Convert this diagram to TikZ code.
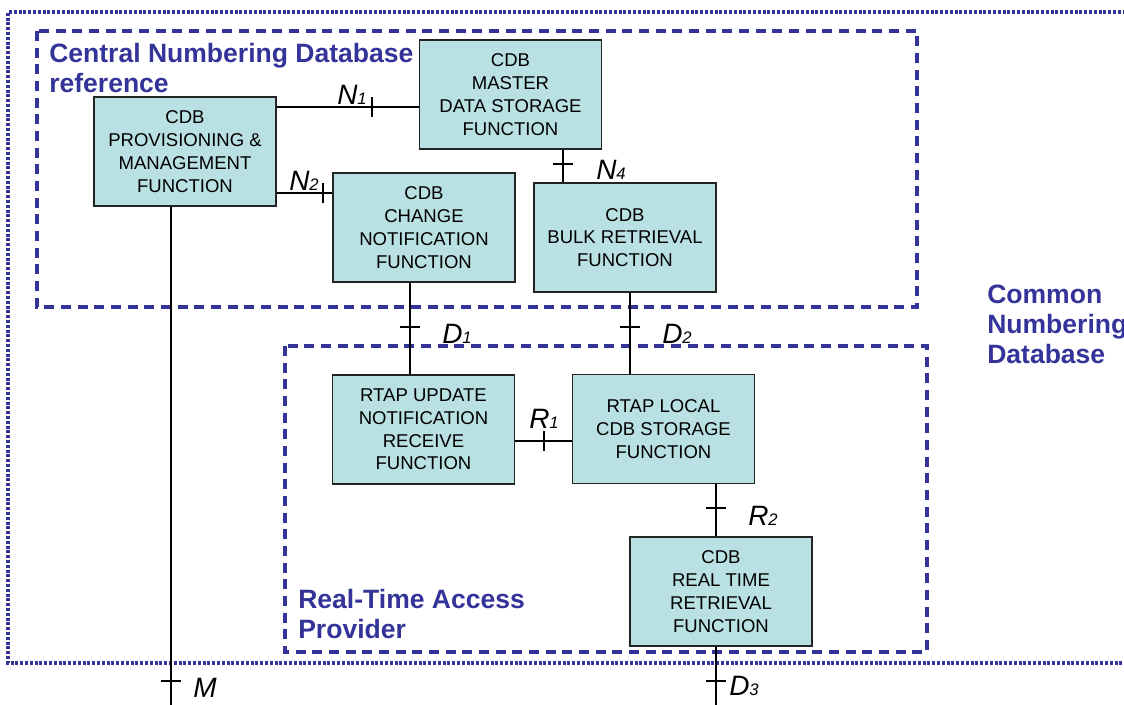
\documentclass[tikz,border=0pt]{standalone}
\usepackage{fontspec}
\setmainfont{Liberation Sans}
\definecolor{cnblue}{RGB}{51,51,153}
\definecolor{boxfill}{RGB}{185,224,227}
\definecolor{boxline}{RGB}{35,35,35}
\newcommand{\ifacelab}[2]{{\itshape #1{\fontsize{12.5pt}{12.5pt}\selectfont #2}}}
\begin{document}
\begin{tikzpicture}[x=0.75pt,y=-0.75pt,
  fnbox/.style={draw=boxline, line width=1.4pt, fill=boxfill, minimum width=136.5pt,
    minimum height=81.75pt, inner sep=0pt, align=center,
    font=\fontsize{13.9pt}{17.1pt}\selectfont},
  conn/.style={draw=black, line width=1.3pt},
  tick/.style={draw=black, line width=1.3pt},
  dashbox/.style={draw=cnblue, line width=2.6pt, dash pattern=on 7.5pt off 5pt},
  dotbox/.style={draw=cnblue, line width=2.4pt, dash pattern=on 2.2pt off 1.4pt},
  grouptitle/.style={text=cnblue, anchor=base west, align=left, inner sep=0pt,
    font=\fontsize{19.9pt}{22.5pt}\bfseries\selectfont},
  ilabel/.style={anchor=base west, inner sep=0pt, font=\fontsize{21pt}{21pt}\selectfont}]
\useasboundingbox (0,0) rectangle (1124,704);
% group frames
\draw[dotbox] (1140,12) -- (8,12) -- (8,663) -- (1140,663);
\draw[dashbox] (37,31) rectangle (917,307);
\draw[dashbox] (285,346) rectangle (927,652);
% group titles (anchored at the baseline of their last line)
\node[grouptitle] (tcnd) at (49,92) {Central Numbering Database\\reference};
\node[grouptitle] (tcomm) at (987,363) {Common\\Numbering\\Database};
\node[grouptitle] (trtap) at (298,638) {Real-Time Access\\Provider};
% function boxes
\node[fnbox] (prov) at (185,151.5) {CDB\\PROVISIONING \&\\MANAGEMENT\\FUNCTION};
\node[fnbox] (master) at (510.5,94.5) {CDB\\MASTER\\DATA STORAGE\\FUNCTION};
\node[fnbox] (change) at (424,227.5) {CDB\\CHANGE\\NOTIFICATION\\FUNCTION};
\node[fnbox] (bulk) at (625,237.5) {CDB\\BULK RETRIEVAL\\FUNCTION};
\node[fnbox] (rtapu) at (423.5,429.5) {RTAP UPDATE\\NOTIFICATION\\RECEIVE\\FUNCTION};
\node[fnbox] (rtapl) at (663.5,429) {RTAP LOCAL\\CDB STORAGE\\FUNCTION};
\node[fnbox] (rt) at (721,591.5) {CDB\\REAL TIME\\RETRIEVAL\\FUNCTION};
% free ends
\coordinate (mend) at (171,706);
\coordinate (d3end) at (716,706);
% connectors
\draw[conn] (prov.east |- 0,107) -- (master.west |- 0,107);
\draw[conn] (prov.east |- 0,193) -- (change.west |- 0,193);
\draw[conn] (master.south -| 563,0) -- (bulk.north -| 563,0);
\draw[conn] (change.south -| 410,0) -- (rtapu.north -| 410,0);
\draw[conn] (bulk.south -| 630,0) -- (rtapl.north -| 630,0);
\draw[conn] (rtapu.east |- 0,441) -- (rtapl.west |- 0,441);
\draw[conn] (rtapl.south -| 716,0) -- (rt.north -| 716,0);
\draw[conn] (prov.south -| mend) -- (mend);
\draw[conn] (rt.south -| d3end) -- (d3end);
% ticks
\draw[tick] (372,97) -- (372,117);
\draw[tick] (323,183) -- (323,203);
\draw[tick] (553,164) -- (573,164);
\draw[tick] (400,327) -- (420,327);
\draw[tick] (620,327) -- (640,327);
\draw[tick] (544,431) -- (544,451);
\draw[tick] (706,508) -- (726,508);
\draw[tick] (161,681) -- (181,681);
\draw[tick] (706,681) -- (726,681);
% interface labels
\node[ilabel] (ln1) at (337,104) {\ifacelab{N}{1}};
\node[ilabel] (ln2) at (289,190) {\ifacelab{N}{2}};
\node[ilabel] (ln4) at (596,179) {\ifacelab{N}{4}};
\node[ilabel] (ld1) at (442,343) {\ifacelab{D}{1}};
\node[ilabel] (ld2) at (662,343) {\ifacelab{D}{2}};
\node[ilabel] (lr1) at (529,428) {\ifacelab{R}{1}};
\node[ilabel] (lr2) at (748,525) {\ifacelab{R}{2}};
\node[ilabel] (lm) at (193,697) {\ifacelab{M}{}};
\node[ilabel] (ld3) at (729,695) {\ifacelab{D}{3}};
\end{tikzpicture}
\end{document}
